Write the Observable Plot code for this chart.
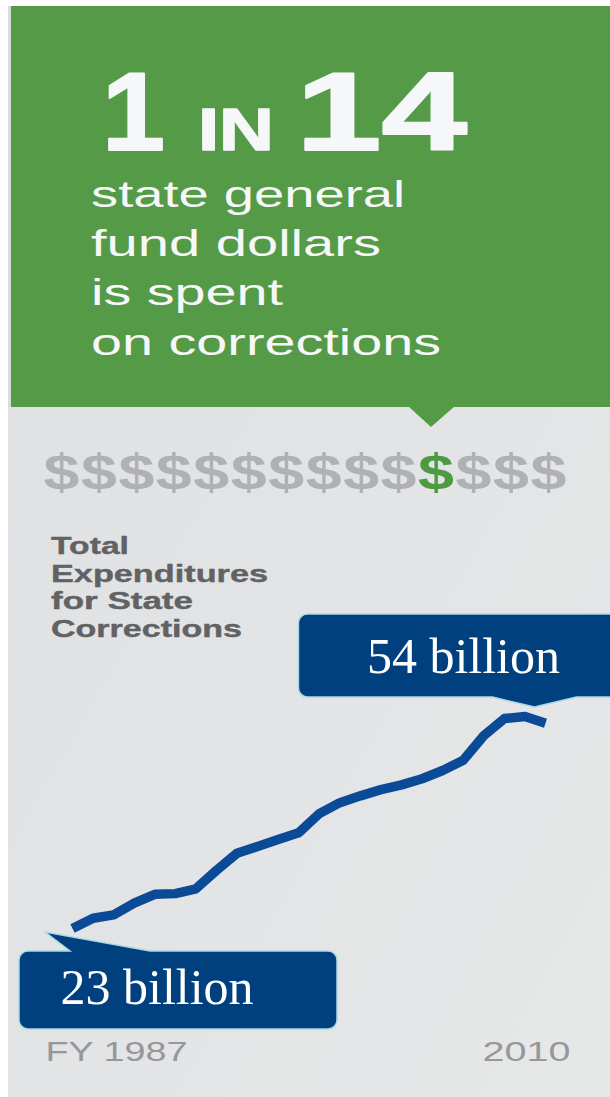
<!DOCTYPE html>
<html><head><meta charset="utf-8">
<script src="https://cdn.jsdelivr.net/npm/d3@7"></script>
<script src="https://cdn.jsdelivr.net/npm/@observablehq/plot@0.6"></script>
<style>
html,body{margin:0;padding:0;background:#fff;}
#wrap{position:relative;width:610px;height:1097px;overflow:hidden;background:#fff;}
#wrap > svg{position:absolute;left:0;top:0;}
</style></head><body><div id="wrap"></div>
<script>
// ---- data ----
const years = [1987,1988,1989,1990,1991,1992,1993,1994,1995,1996,1997,1998,1999,2000,2001,2002,2003,2004,2005,2006,2007,2008,2009,2010];
const spending = [23.0,24.5,25.0,26.7,28.0,28.1,28.8,31.5,34.0,35.0,36.0,37.0,39.8,41.4,42.4,43.3,44.0,44.9,46.1,47.6,51.2,53.7,54.0,53.0];
const headlineParts = ["1", "IN", "14"];
const subLines = ["state general", "fund dollars", "is spent", "on corrections"];
const labelLines = ["Total", "Expenditures", "for State", "Corrections"];
const dollarCount = 14;
const highlightedDollar = 10; // zero-based: the 11th sign is green
const calloutYears = [2009, 1987];
const calloutValues = [54, 23];
const calloutTexts = ["54 billion", "23 billion"];
const axisYears = [1987, 2010];
const axisLabels = ["FY 1987", "2010"];

const data = years.map((year, i) => ({year, value: spending[i]}));
const callouts = calloutYears.map((year, i) => ({year, value: calloutValues[i], text: calloutTexts[i]}));
const ends = axisYears.map((year, i) => ({year, label: axisLabels[i]}));

// ---- layout / style ----
const W = 610, H = 1097;
const GREEN = "#559a47", NAVY = "#00407f", LINE = "#0b4a97";
const SANS = "'Liberation Sans', Arial, Helvetica, sans-serif";
const SERIF = "'Liberation Serif', 'Times New Roman', serif";

const wrap = document.getElementById("wrap");

// decorative background + header
const deco = d3.create("svg").attr("width", W).attr("height", H);
const defs = deco.append("defs");
const lg = defs.append("linearGradient").attr("id", "bg").attr("x1", 0).attr("y1", 0).attr("x2", 1).attr("y2", 1);
lg.append("stop").attr("offset", "0").attr("stop-color", "#dfe0e3");
lg.append("stop").attr("offset", "1").attr("stop-color", "#e6e7e7");
deco.append("rect").attr("x", 8).attr("y", 6).attr("width", W - 8).attr("height", H - 6).attr("fill", "url(#bg)");
deco.append("rect").attr("x", 8).attr("y", 6).attr("width", 3).attr("height", 401).attr("fill", "#dadbdc");
deco.append("rect").attr("x", 11).attr("y", 6).attr("width", W - 11).attr("height", 401).attr("fill", GREEN);
deco.append("polygon").attr("points", "408,406 455,406 431,427").attr("fill", GREEN);

function txt(s, x, y, size, weight, fill, len, opts = {}) {
  const t = deco.append("text").attr("x", x).attr("y", y)
    .attr("font-size", size).attr("font-weight", weight).attr("fill", fill)
    .attr("font-family", opts.family || SANS).attr("text-anchor", opts.anchor || "start")
    .text(s);
  if (len) t.attr("textLength", len).attr("lengthAdjust", "spacingAndGlyphs");
  if (opts.stroke) t.attr("stroke", fill).attr("stroke-width", opts.stroke).attr("stroke-linejoin", "round");
  return t;
}

// headline "1 IN 14"
const WHITE = "#f6f7f9";
txt(headlineParts[0], 102, 150, 112, 700, WHITE, 63, {stroke: 2});
txt(headlineParts[1], 198, 150, 59, 700, WHITE, 76, {stroke: 1.5});
txt(headlineParts[2], 296, 150, 112, 700, WHITE, 171, {stroke: 2});

// sub lines
const subBase = [207, 256, 305, 355];
const subLen = [314, 290, 192, 350];
subLines.forEach((s, i) => txt(s, 91, subBase[i], 37, 400, WHITE, subLen[i]));

// dollar signs
for (let i = 0; i < dollarCount; i++) {
  txt("$", 61.5 + i * 37.46, 489, 50, 700, i === highlightedDollar ? "#4e9a40" : "#b0b1b4", 36, {anchor: "middle"});
}

// label block
const labBase = [554, 582, 609, 637];
const labLen = [78, 217, 142, 191];
labelLines.forEach((s, i) => txt(s, 51, labBase[i], 24.5, 700, "#616264", labLen[i], {stroke: 0.4}));

wrap.appendChild(deco.node());

// ---- chart ----
const xDomain = [1987, 2010], xRange = [72, 545];
const yDomain = [23, 54], yRange = [928, 716];

// callout geometry relative to anchored data point (pixels)
const calloutGeom = [
  {l: -226, t: -102, r: 110, b: -19, tail: {edge: "bottom", a: -32, c: 52, tip: [10, -9]}, dx: -158, dy: -60},
  {l: -53, t: 23, r: 265, b: 101, tail: {edge: "top", a: -2, c: 78, tip: [-27, 4]}, dx: -12, dy: 59}
];

function boxPath(l, t, r, b, rad, tail) {
  let p = `M${l + rad},${t}`;
  if (tail.edge === "top") p += `H${tail.a}L${tail.tip[0]},${tail.tip[1]}L${tail.c},${t}`;
  p += `H${r - rad}A${rad},${rad} 0 0 1 ${r},${t + rad}V${b - rad}A${rad},${rad} 0 0 1 ${r - rad},${b}`;
  if (tail.edge === "bottom") p += `H${tail.c}L${tail.tip[0]},${tail.tip[1]}L${tail.a},${b}`;
  p += `H${l + rad}A${rad},${rad} 0 0 1 ${l},${b - rad}V${t + rad}A${rad},${rad} 0 0 1 ${l + rad},${t}Z`;
  return p;
}

const fx = d3.scaleLinear(xDomain, xRange), fy = d3.scaleLinear(yDomain, yRange);
function calloutBoxes(index, scales) {
  const sx = scales && typeof scales.x === "function" ? scales.x : fx;
  const sy = scales && typeof scales.y === "function" ? scales.y : fy;
  const g = d3.create("svg:g");
  callouts.forEach((c, i) => {
    const k = calloutGeom[i];
    g.append("path")
      .attr("transform", `translate(${sx(c.year)},${sy(c.value)})`)
      .attr("d", boxPath(k.l, k.t, k.r, k.b, 9, k.tail))
      .attr("fill", NAVY).attr("stroke", "#a8d9e4").attr("stroke-width", 1.5);
  });
  return g.node();
}

const plot = Plot.plot({
  width: W, height: H, margin: 0,
  style: {background: "transparent", overflow: "visible"},
  x: {domain: xDomain, range: xRange, axis: null},
  y: {domain: yDomain, range: yRange, axis: null},
  marks: [
    Plot.line(data, {x: "year", y: "value", stroke: LINE, strokeWidth: 9.5, strokeLinejoin: "round", strokeLinecap: "butt"}),
    calloutBoxes,
    ...callouts.map((c, i) => Plot.text([c], {
      x: "year", y: "value", text: "text", textAnchor: "start",
      dx: calloutGeom[i].dx, dy: calloutGeom[i].dy,
      fill: "white", fontSize: 50, fontFamily: SERIF
    })),
    Plot.text([ends[0]], {x: "year", text: "label", frameAnchor: "bottom", textAnchor: "start", dx: -27, dy: -37, fill: "#96979a", fontSize: 28, fontFamily: SANS}),
    Plot.text([ends[1]], {x: "year", text: "label", frameAnchor: "bottom", textAnchor: "end", dx: 25, dy: -37, fill: "#96979a", fontSize: 28, fontFamily: SANS})
  ]
});

// stretch axis-end labels to the wide lettering of the original
const stretch = {"FY 1987": 142, "2010": 88};
d3.select(plot).selectAll("text").each(function() {
  const L = stretch[this.textContent];
  if (L) d3.select(this).attr("textLength", L).attr("lengthAdjust", "spacingAndGlyphs");
});
wrap.appendChild(plot);
</script></body></html>
